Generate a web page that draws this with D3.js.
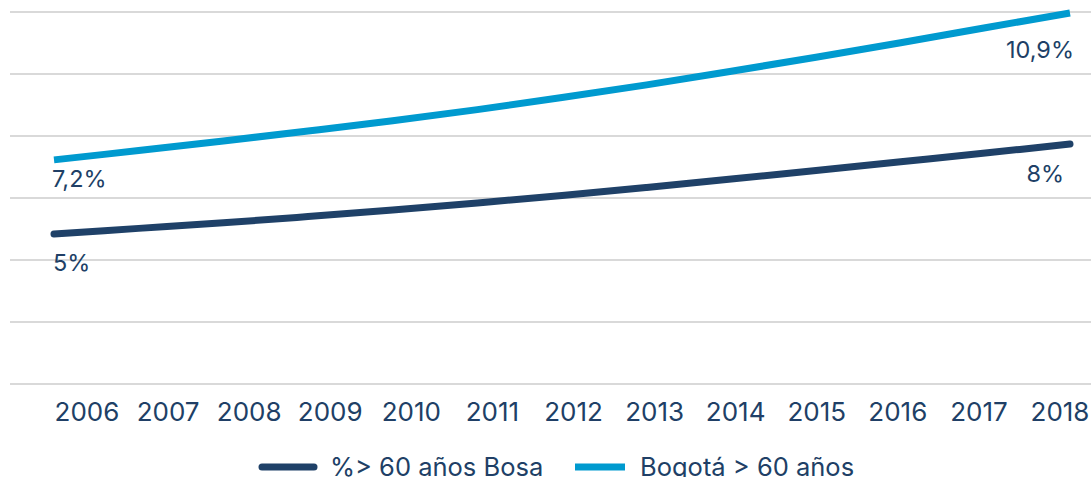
<!DOCTYPE html>
<html>
<head>
<meta charset="utf-8">
<script src="https://cdn.jsdelivr.net/npm/d3@7"></script>
<style>
  body { margin: 0; background: #fff; }
  svg { display: block; font-family: Inter, "DejaVu Sans", sans-serif; }
  .grid line { stroke: #d9d9d9; stroke-width: 2; }
  .txt { fill: #203f66; }
</style>
</head>
<body>
<svg id="chart" width="1091" height="477"></svg>
<script>
var years = ['2006','2007','2008','2009','2010','2011','2012','2013','2014','2015','2016','2017','2018'];
var bosa = [4.84, 5.02, 5.20, 5.40, 5.61, 5.84, 6.08, 6.34, 6.61, 6.89, 7.17, 7.45, 7.74];
var bogota = [7.23, 7.53, 7.84, 8.16, 8.49, 8.85, 9.24, 9.65, 10.09, 10.54, 11.01, 11.49, 11.97];
var yTicks = [0, 2, 4, 6, 8, 10, 12];
var seriesNames = ['%> 60 años Bosa', 'Bogotá > 60 años'];
var endLabels = [['5%', '8%'], ['7,2%', '10,9%']];

var svg = d3.select('#chart'),
    colors = ['#1f4168', '#009acf'];

var y = d3.scaleLinear().domain([0, 12]).range([384, 12]);
var xLine = d3.scalePoint().domain(years).range([54, 1070]);
var xLabel = d3.scalePoint().domain(years).range([87, 1060]);

// gridlines
svg.append('g').attr('class', 'grid')
   .selectAll('line').data(yTicks).enter()
   .append('line')
   .attr('x1', 10).attr('x2', 1091)
   .attr('y1', function (d) { return y(d); })
   .attr('y2', function (d) { return y(d); });

// year labels
svg.append('g').selectAll('text').data(years).enter()
   .append('text')
   .attr('class', 'txt')
   .attr('x', function (d) { return xLabel(d); })
   .attr('y', 421)
   .attr('text-anchor', 'middle')
   .style('font-size', '26px')
   .text(function (d) { return d; });

var line = d3.line()
  .x(function (d, i) { return xLine(years[i]); })
  .y(function (d) { return y(d); })
  .curve(d3.curveCatmullRom);

[bogota, bosa].forEach(function (values) {
  var idx = values === bosa ? 0 : 1;
  svg.append('path')
     .attr('d', line(values))
     .attr('fill', 'none')
     .attr('stroke', colors[idx])
     .attr('stroke-width', 7)
     .attr('stroke-linecap', idx === 0 ? 'round' : 'butt');
});

// end labels
var labelPos = [
  { x: 53, y: 271, anchor: 'start' },
  { x: 1064, y: 182, anchor: 'end' },
  { x: 52, y: 187, anchor: 'start' },
  { x: 1074, y: 58, anchor: 'end' }
];
var flat = [endLabels[0][0], endLabels[0][1], endLabels[1][0], endLabels[1][1]];
svg.append('g').selectAll('text').data(flat).enter()
   .append('text')
   .attr('class', 'txt')
   .attr('x', function (d, i) { return labelPos[i].x; })
   .attr('y', function (d, i) { return labelPos[i].y; })
   .attr('text-anchor', function (d, i) { return labelPos[i].anchor; })
   .style('font-size', '23.5px')
   .text(function (d) { return d; });

// legend
var legend = svg.append('g');
var legendX = [262, 575];
seriesNames.forEach(function (name, i) {
  var g = legend.append('g').attr('transform', 'translate(' + legendX[i] + ',467)');
  g.append('line')
   .attr('x1', 0).attr('x2', i === 0 ? 52 : 50)
   .attr('stroke', colors[i])
   .attr('stroke-width', 7)
   .attr('stroke-linecap', i === 0 ? 'round' : 'butt');
  g.append('text')
   .attr('class', 'txt')
   .attr('x', i === 0 ? 68 : 65)
   .attr('y', 9)
   .style('font-size', '25.5px')
   .text(name);
});
</script>
</body>
</html>
